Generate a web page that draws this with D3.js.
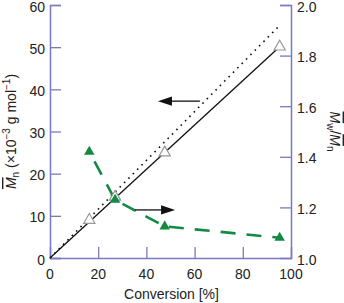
<!DOCTYPE html>
<html><head><meta charset="utf-8">
<script src="https://cdn.jsdelivr.net/npm/d3@7"></script>
<style>
html,body{margin:0;padding:0;background:#fff;}
text{font-family:"Liberation Sans",Arial,Helvetica,sans-serif;}
</style>
</head><body>
<svg id="chart" width="344" height="303"></svg>
<script>
// ---- data ----
const conversion = [16.3, 27, 47.6, 95.3];
const mnValues = [9.0, 14.5, 25.0, 50.1];
const pdiValues = [1.42, 1.23, 1.125, 1.08];
const fitLine = [[0, 0], [95.3, 50.1]];          // solid line
const theoryLine = [[0, 0], [94.5, 54.7]];       // dotted line
const xTicks = [0, 20, 40, 60, 80, 100];
const yLeftTicks = [0, 10, 20, 30, 40, 50, 60];
const yRightTicks = [1.0, 1.2, 1.4, 1.6, 1.8, 2.0];
// arrows: [x1, x2, y] in left-axis units (x1 = tail, x2 = tip)
const arrowLeft = [62.2, 44.8, 37.2];
const arrowRight = [35.3, 51.9, 11.4];

// ---- layout ----
const svg = d3.select("#chart");
const m = {left: 50, right: 53, top: 5, bottom: 45};
const W = 344, H = 303;
const x = d3.scaleLinear().domain([0, 100]).range([m.left, W - m.right]);
const yL = d3.scaleLinear().domain([0, 60]).range([H - m.bottom, m.top]);
const yR = d3.scaleLinear().domain([1.0, 2.0]).range([H - m.bottom, m.top]);
const axisColor = "#7a7ac2";
const green = "#138a43";
const fs = 14;

// axes
const gx = svg.append("g").attr("transform", `translate(0,${H - m.bottom})`)
  .call(d3.axisTop(x).tickValues(xTicks).tickSize(11).tickFormat(""));
const gl = svg.append("g").attr("transform", `translate(${m.left},0)`)
  .call(d3.axisRight(yL).tickValues(yLeftTicks).tickSize(11).tickFormat(""));
const gr = svg.append("g").attr("transform", `translate(${W - m.right},0)`)
  .call(d3.axisLeft(yR).tickValues(yRightTicks).tickSize(11).tickFormat(""));
[gx, gl, gr].forEach(g => {
  g.select(".domain").attr("stroke", axisColor).attr("stroke-width", 1.5);
  g.selectAll(".tick line").attr("stroke", axisColor).attr("stroke-width", 1.3);
});
gx.selectAll(".tick").filter(d => d === 0 || d === 100).select("line").remove();
gr.selectAll(".tick").filter(d => d === 1.0).select("line").remove();

// tick labels
svg.append("g").selectAll("text").data(xTicks).join("text")
  .attr("x", d => x(d)).attr("y", H - m.bottom + 21).attr("text-anchor", "middle")
  .attr("font-size", fs).attr("fill", "#222").text(d => d);
svg.append("g").selectAll("text").data(yLeftTicks).join("text")
  .attr("x", m.left - 5).attr("y", d => yL(d) + 6.5).attr("text-anchor", "end")
  .attr("font-size", fs).attr("fill", "#222").text(d => d);
svg.append("g").selectAll("text").data(yRightTicks).join("text")
  .attr("x", W - m.right + 6).attr("y", d => yR(d) + 6.5).attr("text-anchor", "start")
  .attr("font-size", fs).attr("fill", "#222").text(d => d.toFixed(1));

// axis titles
svg.append("text").attr("x", (x(0) + x(100)) / 2 + 1).attr("y", 299)
  .attr("text-anchor", "middle").attr("font-size", fs).attr("fill", "#222")
  .text("Conversion [%]");

const lt = svg.append("text").attr("transform", `translate(16,${(yL(0) + yL(60)) / 2}) rotate(-90)`)
  .attr("text-anchor", "middle").attr("font-size", fs).attr("fill", "#222");
lt.append("tspan").attr("font-style", "italic").attr("text-decoration", "overline").text("M");
lt.append("tspan").attr("font-size", 10).attr("baseline-shift", "-3").text("n");
lt.append("tspan").text(" (×10");
lt.append("tspan").attr("font-size", 10).attr("baseline-shift", "6").text("−3");
lt.append("tspan").text(" g mol");
lt.append("tspan").attr("font-size", 10).attr("baseline-shift", "6").text("−1");
lt.append("tspan").text(")");

const rt = svg.append("text").attr("transform", `translate(330,${(yR(1) + yR(2)) / 2}) rotate(90)`)
  .attr("text-anchor", "middle").attr("font-size", fs).attr("fill", "#222");
rt.append("tspan").attr("font-style", "italic").attr("text-decoration", "overline").text("M");
rt.append("tspan").attr("font-size", 10).attr("baseline-shift", "-3").text("w");
rt.append("tspan").text("/");
rt.append("tspan").attr("font-style", "italic").attr("text-decoration", "overline").text("M");
rt.append("tspan").attr("font-size", 10).attr("baseline-shift", "-3").text("n");

// lines
const lineL = d3.line().x(d => x(d[0])).y(d => yL(d[1]));
svg.append("path").datum(theoryLine).attr("d", lineL).attr("fill", "none")
  .attr("stroke", "#111").attr("stroke-width", 1.6).attr("stroke-dasharray", "1.6,4.6");
svg.append("path").datum(fitLine).attr("d", lineL).attr("fill", "none")
  .attr("stroke", "#111").attr("stroke-width", 1.3);

// PDI dashed line
const pdiPts = conversion.map((c, i) => [c, pdiValues[i]]);
svg.append("path").datum(pdiPts)
  .attr("d", d3.line().x(d => x(d[0])).y(d => yR(d[1])))
  .attr("fill", "none").attr("stroke", green).attr("stroke-width", 2.6)
  .attr("stroke-dasharray", "15,11").attr("stroke-dashoffset", 15);

// markers
svg.append("g").selectAll("path").data(conversion).join("path")
  .attr("transform", (d, i) => `translate(${x(d)},${yL(mnValues[i])})`)
  .attr("d", d3.symbol(d3.symbolTriangle, 55))
  .attr("fill", "#fff").attr("stroke", "#999").attr("stroke-width", 1.2);
svg.append("g").selectAll("path").data(conversion).join("path")
  .attr("transform", (d, i) => `translate(${x(d)},${yR(pdiValues[i])})`)
  .attr("d", d3.symbol(d3.symbolTriangle, 48))
  .attr("fill", green);

// arrows
function arrow(a) {
  const x1 = x(a[0]), x2 = x(a[1]), yy = yL(a[2]);
  const dir = Math.sign(x2 - x1);
  const hl = 14, hw = 4.6;
  svg.append("line").attr("x1", x1).attr("x2", x2 - dir * hl + dir).attr("y1", yy).attr("y2", yy)
    .attr("stroke", "#111").attr("stroke-width", 1.3);
  svg.append("path").attr("d", `M${x2},${yy}L${x2 - dir * hl},${yy - hw}L${x2 - dir * hl},${yy + hw}Z`)
    .attr("fill", "#111");
}
arrow(arrowLeft);
arrow(arrowRight);
</script>
</body></html>
